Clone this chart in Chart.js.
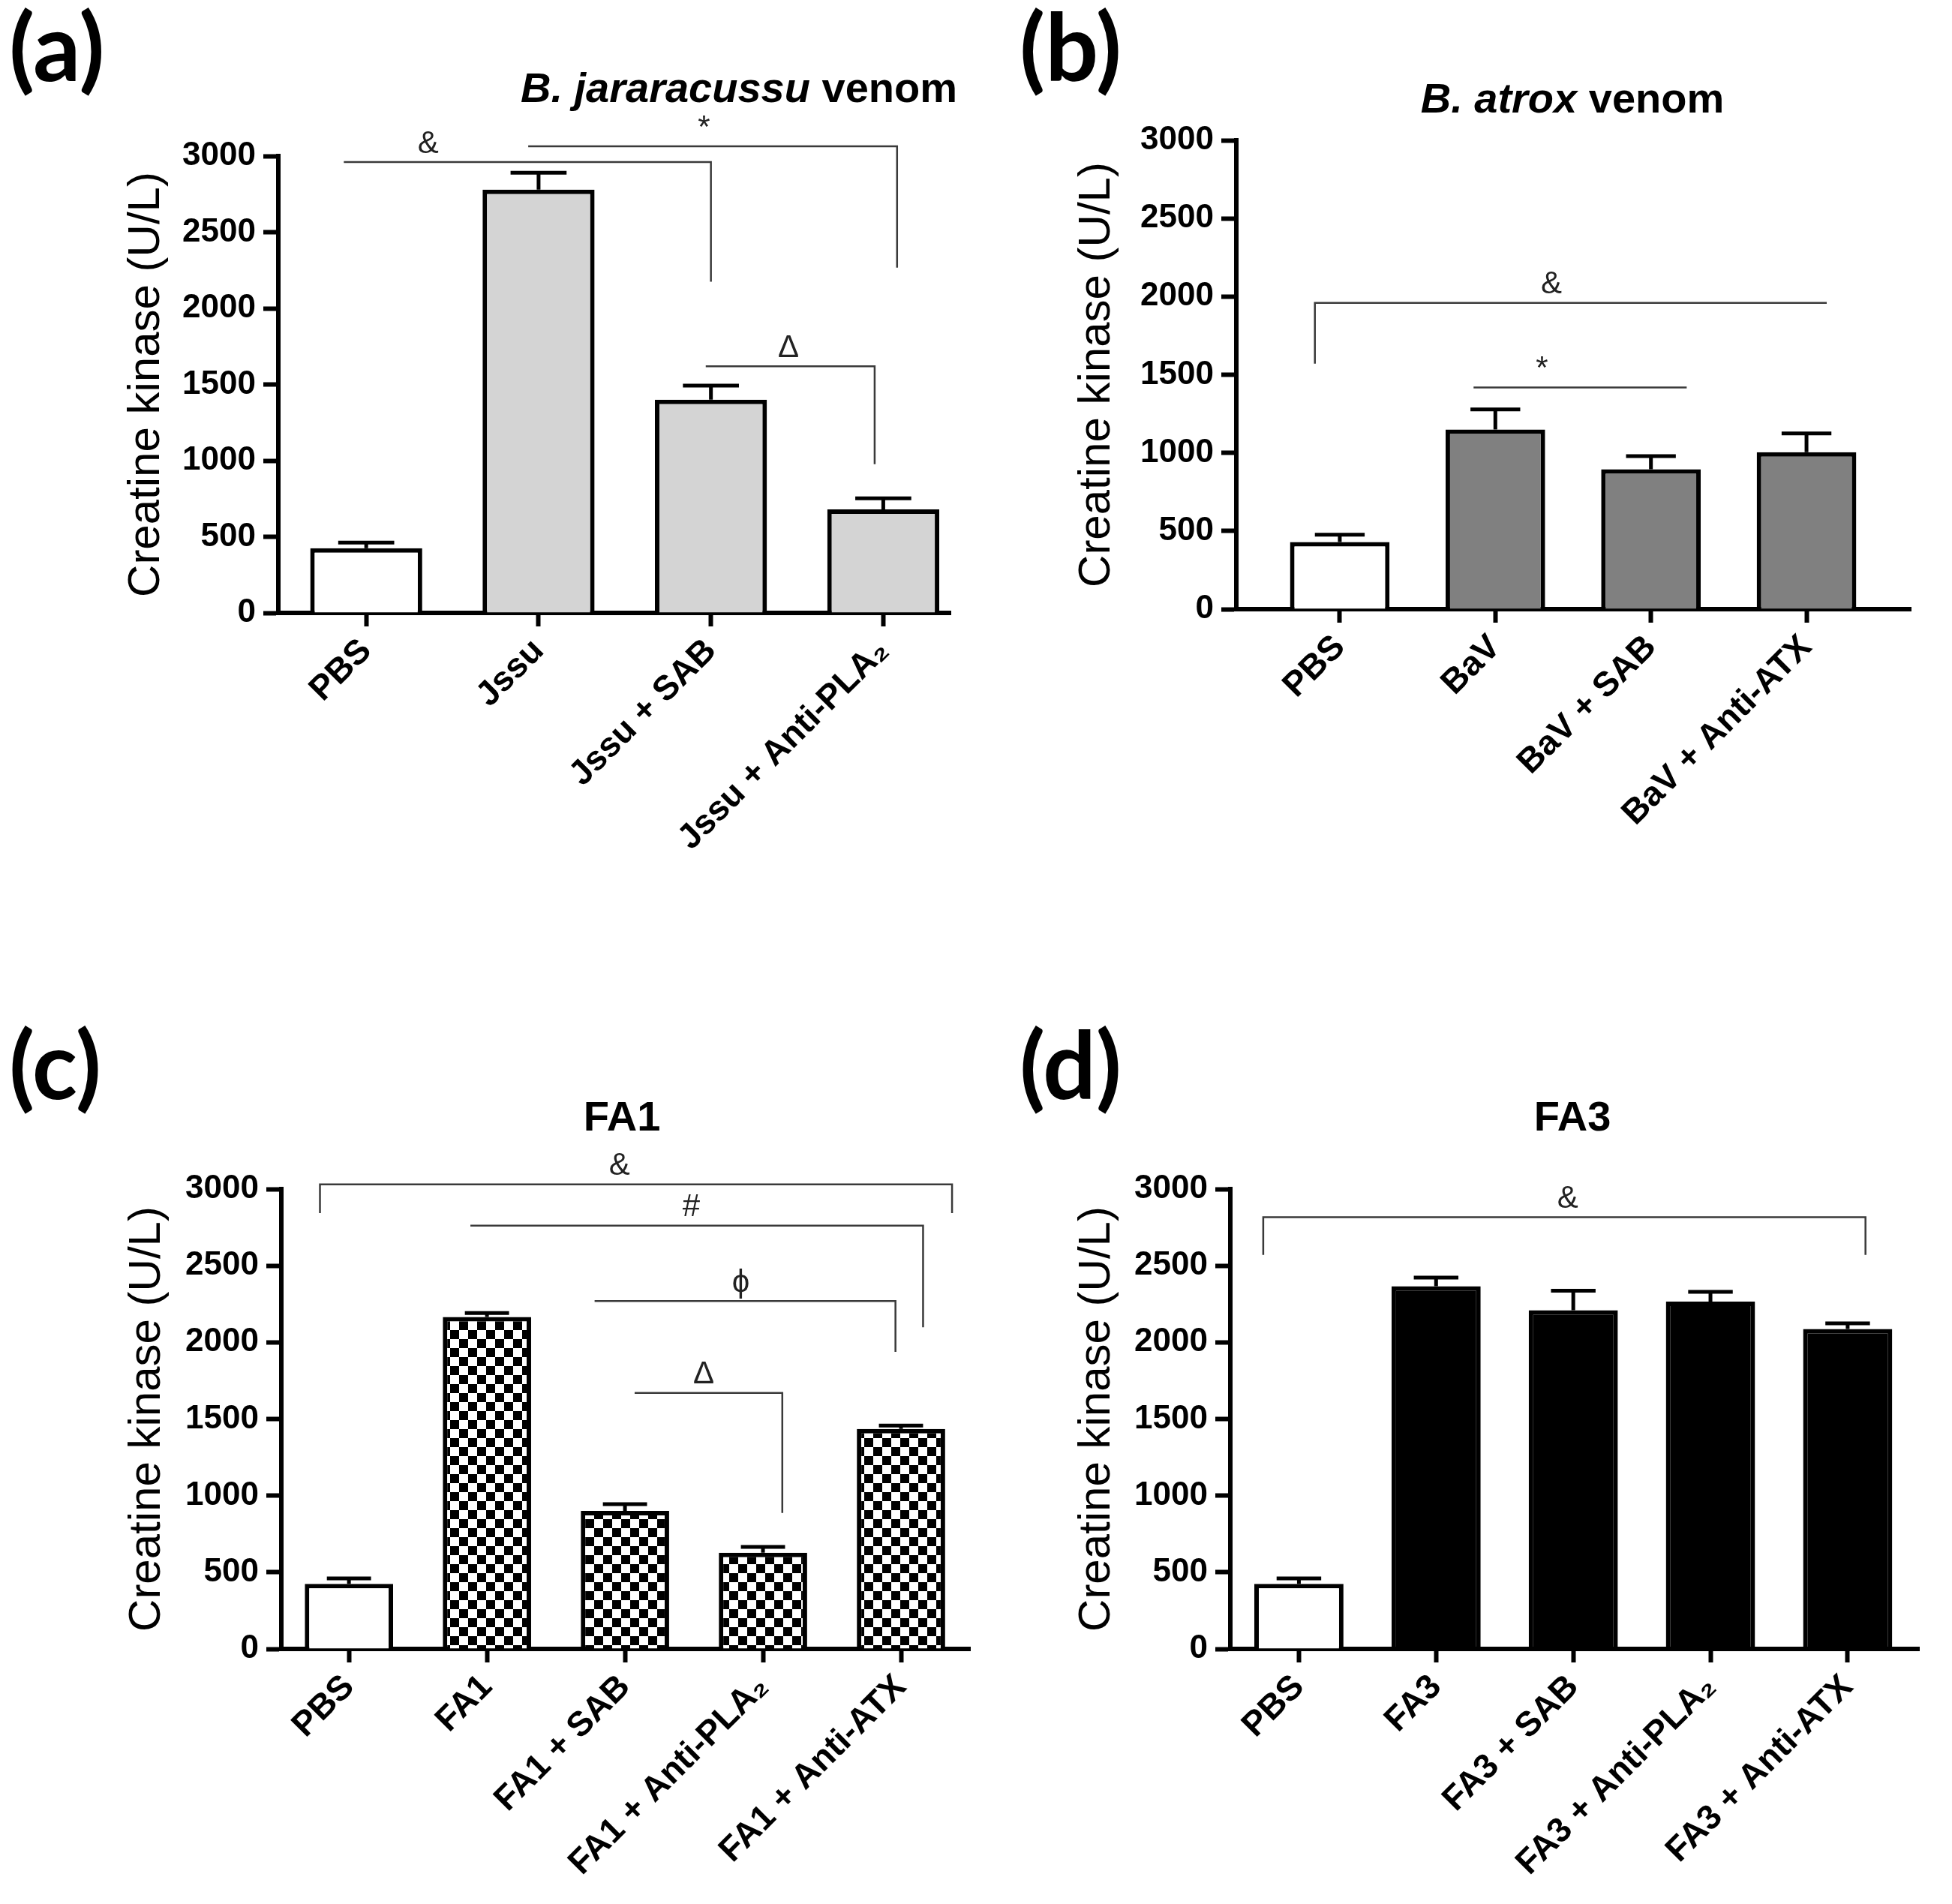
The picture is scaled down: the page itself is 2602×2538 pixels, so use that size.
<!DOCTYPE html>
<html>
<head>
<meta charset="utf-8">
<script src="https://cdn.jsdelivr.net/npm/chart.js@4.4.1/dist/chart.umd.min.js"></script>
<style>
  html, body { margin: 0; padding: 0; background: #fff; }
  #wrap { position: relative; width: 2602px; height: 2538px; }
  canvas { position: absolute; }
</style>
</head>
<body>
<div id="wrap">
  <canvas id="pa" width="1301" height="1269" style="left:0;top:0"></canvas>
  <canvas id="pb" width="1301" height="1269" style="left:1301px;top:0"></canvas>
  <canvas id="pc" width="1301" height="1269" style="left:0;top:1269px"></canvas>
  <canvas id="pd" width="1301" height="1269" style="left:1301px;top:1269px"></canvas>
</div>
<script>
// ---- data ----
const yTicks = [0, 500, 1000, 1500, 2000, 2500, 3000];

const catsA = ['PBS', 'Jssu', 'Jssu + SAB', 'Jssu + Anti-PLA\u2082'];
const valsA = [425, 2780, 1400, 680];
const errA = [37, 110, 92, 72];
// brackets: from/to in category units, y in U/L, optional legs down to a value
const sigA = [
  { from: -0.13, to: 2, y: 2960, right: 2175, label: '&', at: 0.36 },
  { from: 0.94, to: 3.08, y: 3064, right: 2267, label: '*', at: 1.96 },
  { from: 1.97, to: 2.95, y: 1620, right: 977, label: '\u0394', at: 2.45 }
];

const catsB = ['PBS', 'BaV', 'BaV + SAB', 'BaV + Anti-ATX'];
const valsB = [430, 1150, 895, 1005];
const errB = [47, 128, 84, 120];
const sigB = [
  { from: -0.16, to: 3.13, y: 1960, left: 1571, label: '&', at: 1.36 },
  { from: 0.86, to: 2.23, y: 1418, label: '*', at: 1.30 }
];

const catsC = ['PBS', 'FA1', 'FA1 + SAB', 'FA1 + Anti-PLA\u2082', 'FA1 + Anti-ATX'];
const valsC = [425, 2165, 900, 628, 1435];
const errC = [35, 26, 45, 37, 22];
const sigC = [
  { from: -0.21, to: 4.37, y: 3030, left: 2843, right: 2843, label: '&', at: 1.96 },
  { from: 0.88, to: 4.16, y: 2761, right: 2098, label: '#', at: 2.48 },
  { from: 1.78, to: 3.96, y: 2270, right: 1938, label: '\u03D5', at: 2.84 },
  { from: 2.07, to: 3.14, y: 1670, right: 887, label: '\u0394', at: 2.57 }
];

const catsD = ['PBS', 'FA3', 'FA3 + SAB', 'FA3 + Anti-PLA\u2082', 'FA3 + Anti-ATX'];
const valsD = [425, 2366, 2210, 2266, 2087];
const errD = [35, 56, 127, 63, 37];
const sigD = [
  { from: -0.26, to: 4.13, y: 2817, left: 2571, right: 2571, label: '&', at: 1.96 }
];

const FONT = "'Liberation Sans', Arial, sans-serif";

function checker(cell) {
  const c = document.createElement('canvas');
  c.width = c.height = cell * 2;
  const g = c.getContext('2d');
  g.fillStyle = '#fff';
  g.fillRect(0, 0, cell * 2, cell * 2);
  g.fillStyle = '#000';
  g.fillRect(0, 0, cell, cell);
  g.fillRect(cell, cell, cell, cell);
  return g.createPattern(c, 'repeat');
}

// error bars, significance brackets, panel letter and title
const decor = {
  id: 'decor',
  afterDatasetsDraw(chart, args, o) {
    const ctx = chart.ctx, ys = chart.scales.y;
    const meta = chart.getDatasetMeta(0);
    ctx.save();
    ctx.strokeStyle = '#000';
    ctx.lineWidth = 5;
    meta.data.forEach((bar, i) => {
      const top = ys.getPixelForValue(o.vals[i]);
      const end = ys.getPixelForValue(o.vals[i] + o.errs[i]);
      const half = bar.width / 4;
      ctx.beginPath();
      ctx.moveTo(bar.x, top);
      ctx.lineTo(bar.x, end);
      ctx.moveTo(bar.x - half, end);
      ctx.lineTo(bar.x + half, end);
      ctx.stroke();
    });
    ctx.restore();
  },
  afterDraw(chart, args, o) {
    const ctx = chart.ctx, xs = chart.scales.x, ys = chart.scales.y;
    ctx.save();
    ctx.strokeStyle = '#3a3a3a';
    ctx.fillStyle = '#222';
    ctx.lineWidth = 2.5;
    ctx.font = '42px ' + FONT;
    ctx.textAlign = 'center';
    ctx.textBaseline = 'bottom';
    o.sigs.forEach(s => {
      const x1 = xs.getPixelForValue(s.from), x2 = xs.getPixelForValue(s.to);
      const y = ys.getPixelForValue(s.y);
      ctx.beginPath();
      if (s.left != null) { ctx.moveTo(x1, ys.getPixelForValue(s.left)); ctx.lineTo(x1, y); }
      else ctx.moveTo(x1, y);
      ctx.lineTo(x2, y);
      if (s.right != null) ctx.lineTo(x2, ys.getPixelForValue(s.right));
      ctx.stroke();
      ctx.fillText(s.label, xs.getPixelForValue(s.at), y - 3);
    });

    ctx.fillStyle = '#000';
    ctx.textAlign = 'left';
    ctx.textBaseline = 'alphabetic';
    ctx.font = 'bold 125px Lato, ' + FONT;
    ctx.fillText(o.letter, o.letterX, o.letterY);

    let w = 0;
    o.title.forEach(p => {
      ctx.font = (p.italic ? 'italic ' : '') + 'bold 56px ' + FONT;
      w += ctx.measureText(p.t).width;
    });
    let x = o.titleX - w / 2;
    o.title.forEach(p => {
      ctx.font = (p.italic ? 'italic ' : '') + 'bold 56px ' + FONT;
      ctx.fillText(p.t, x, o.titleY);
      x += ctx.measureText(p.t).width;
    });
    ctx.restore();
  }
};

function panel(id, cats, vals, errs, sigs, fill, g, text) {
  new Chart(document.getElementById(id), {
    type: 'bar',
    data: {
      datasets: [{
        data: vals.map((v, i) => ({ x: i, y: v })),
        backgroundColor: vals.map((v, i) => i === 0 ? '#fff' : fill),
        borderColor: '#000',
        borderWidth: 6,
        barPercentage: 1,
        categoryPercentage: g.bar
      }]
    },
    options: {
      responsive: false,
      devicePixelRatio: 1,
      animation: false,
      layout: { padding: { left: g.left, top: g.top, right: g.right, bottom: 0 } },
      plugins: {
        legend: { display: false },
        tooltip: { enabled: false },
        decor: Object.assign({ vals, errs, sigs }, text)
      },
      scales: {
        x: {
          type: 'linear',
          bounds: 'data',
          offset: false,
          min: -g.padL,
          max: cats.length - 1 + g.padR,
          afterBuildTicks: s => { s.ticks = cats.map((c, i) => ({ value: i })); },
          afterFit: s => { s.height = g.xH; },
          grid: { offset: false, drawOnChartArea: false, drawTicks: true, tickLength: 18, tickWidth: 6, tickColor: '#000' },
          border: { display: true, width: 6, color: '#000' },
          ticks: {
            autoSkip: false, minRotation: 45, maxRotation: 45, padding: 6,
            color: '#000', font: { family: FONT, size: 46, weight: 'bold' },
            callback: v => cats[Math.round(v)]
          }
        },
        y: {
          min: 0,
          max: 3000,
          bounds: 'data',
          afterBuildTicks: s => { s.ticks = yTicks.map(v => ({ value: v })); },
          afterFit: s => { s.width = g.yW; },
          grid: { drawOnChartArea: false, drawTicks: true, tickLength: 20, tickWidth: 6, tickColor: '#000' },
          border: { display: true, width: 6, color: '#000' },
          ticks: {
            padding: 10, color: '#000', font: { family: FONT, size: 44, weight: 'bold' },
            callback: v => String(v)
          },
          title: {
            display: true, text: 'Creatine kinase (U/L)', color: '#000',
            font: { family: FONT, size: 60 }, padding: 0
          }
        }
      }
    },
    plugins: [decor]
  });
}

panel('pa', catsA, valsA, errA, sigA, '#d4d4d4',
  { left: 159, yW: 212, top: 208, right: 34, xH: 452, padL: 0.51, padR: 0.39, bar: 0.65 },
  { letter: '(a)', letterX: 12, letterY: 108, title: [{ t: 'B. jararacussu', italic: true }, { t: ' venom' }], titleX: 985, titleY: 136 });

panel('pb', catsB, valsB, errB, sigB, '#808080',
  { left: 125, yW: 222, top: 187, right: 55, xH: 457, padL: 0.665, padR: 0.67, bar: 0.64 },
  { letter: '(b)', letterX: 58, letterY: 108, title: [{ t: 'B. atrox', italic: true }, { t: ' venom' }], titleX: 795, titleY: 150 });

panel('pc', catsC, valsC, errC, sigC, checker(12),
  { left: 160, yW: 215, top: 316, right: 8, xH: 340, padL: 0.49, padR: 0.5, bar: 0.64 },
  { letter: '(c)', letterX: 12, letterY: 196, title: [{ t: 'FA1' }], titleX: 829, titleY: 238 });

panel('pd', catsD, valsD, errD, sigD, '#000',
  { left: 125, yW: 214, top: 316, right: 44, xH: 340, padL: 0.5, padR: 0.52, bar: 0.65 },
  { letter: '(d)', letterX: 58, letterY: 196, title: [{ t: 'FA3' }], titleX: 795, titleY: 238 });
</script>
</body>
</html>
